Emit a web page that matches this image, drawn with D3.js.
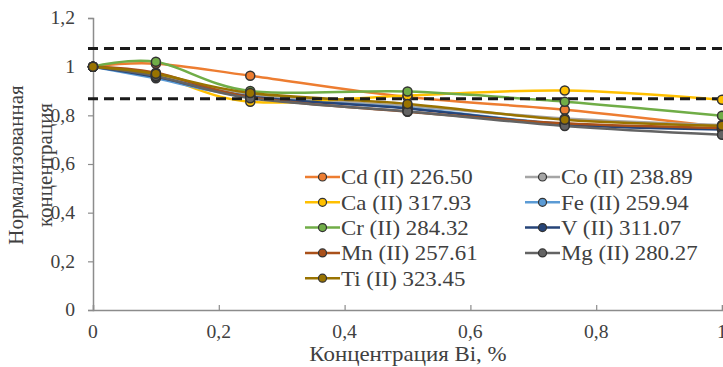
<!DOCTYPE html>
<html><head><meta charset="utf-8">
<script src="https://cdn.jsdelivr.net/npm/d3@7"></script>
<style>body{margin:0;background:#fff}svg{display:block}</style>
</head><body>
<svg id="c" width="723" height="367"></svg>
<script>
const xValues = [0, 0.1, 0.25, 0.5, 0.75, 1];
const seriesNames = ["Cd (II) 226.50","Co (II) 238.89","Ca (II) 317.93","Fe (II) 259.94","Cr (II) 284.32","V (II) 311.07","Mn (II) 257.61","Mg (II) 280.27","Ti (II) 323.45"];
const cd = [1, 1.012, 0.963, 0.875, 0.823, 0.752];
const co = [1, 0.965, 0.885, 0.838, 0.787, 0.76];
const ca = [1, 0.965, 0.856, 0.882, 0.902, 0.864];
const fe = [1, 0.952, 0.875, 0.83, 0.765, 0.745];
const cr = [1, 1.02, 0.9, 0.898, 0.856, 0.798];
const v  = [1, 0.958, 0.877, 0.828, 0.762, 0.742];
const mn = [1, 0.975, 0.875, 0.815, 0.767, 0.748];
const mg = [1, 0.962, 0.87, 0.816, 0.756, 0.72];
const ti = [1, 0.971, 0.892, 0.847, 0.782, 0.757];
const seriesValues = [cd, co, ca, fe, cr, v, mn, mg, ti];
const colors = ["#ED7D31","#A5A5A5","#FFC000","#5B9BD5","#70AD47","#264478","#A9501A","#636363","#997300"];
const yTicks = [0, 0.2, 0.4, 0.6, 0.8, 1, 1.2];
const yTickLabels = ["0","0,2","0,4","0,6","0,8","1","1,2"];
const xTicks = [0, 0.2, 0.4, 0.6, 0.8, 1];
const xTickLabels = ["0","0,2","0,4","0,6","0,8","1"];
const refLines = [1.075, 0.868];

const FONT = "Tinos";
const STRETCH = 1.09;
const stretch = sel => sel.each(function(){
  const w = this.getComputedTextLength();
  d3.select(this).attr("textLength", w*STRETCH).attr("lengthAdjust","spacingAndGlyphs");
});
const svg = d3.select("#c");
const x = d3.scaleLinear().domain([0,1]).range([93,722]);
const y = d3.scaleLinear().domain([0,1.2]).range([310,18]);

// axes
const yAxis = d3.axisLeft(y).tickValues(yTicks).tickSize(5).tickFormat((d,i)=>yTickLabels[i]);
const gy = svg.append("g").attr("transform","translate(93,0)").call(yAxis).attr("font-family",FONT);
gy.select(".domain").attr("stroke","#8c8c8c").attr("stroke-width",1.5);
gy.selectAll(".tick line").attr("stroke","#8c8c8c").attr("stroke-width",1.2);
gy.selectAll(".tick text").attr("x",-18).attr("font-size",18).attr("fill","#404040").attr("font-family",FONT).call(stretch);

const xAxis = d3.axisTop(x).tickValues(xTicks).tickSize(5).tickFormat("");
const gx = svg.append("g").attr("transform","translate(0,310)").call(xAxis);
gx.select(".domain").attr("stroke","#8c8c8c").attr("stroke-width",1.5);
gx.selectAll(".tick line").attr("stroke","#8c8c8c").attr("stroke-width",1.2);
svg.append("g").selectAll("text").data(xTicks).join("text")
  .attr("x",d=>x(d)).attr("y",338).attr("text-anchor","middle").attr("font-size",18)
  .attr("font-family",FONT).attr("fill","#404040")
  .text((d,i)=>xTickLabels[i]).call(stretch);

// series lines
const line = d3.line().x((d,i)=>x(xValues[i])).y(d=>y(d)).curve(d3.curveCardinal.tension(0));
seriesValues.forEach((s,k)=>{
  svg.append("path").attr("d",line(s)).attr("fill","none").attr("stroke",colors[k]).attr("stroke-width",2.5);
});

// reference dashed lines
svg.append("g").selectAll("line").data(refLines).join("line")
  .attr("x1",88).attr("x2",723).attr("y1",d=>y(d)).attr("y2",d=>y(d))
  .attr("stroke","#1a1a1a").attr("stroke-width",3).attr("stroke-dasharray","10,6");

// markers
seriesValues.forEach((s,k)=>{
  svg.append("g").selectAll("circle").data(s).join("circle")
    .attr("cx",(d,i)=>x(xValues[i])).attr("cy",d=>y(d)).attr("r",4.5)
    .attr("fill",colors[k]).attr("stroke","#333").attr("stroke-width",1.5);
});

// legend
const leg = svg.append("g");
seriesNames.forEach((name,k)=>{
  const col = k%2, row = Math.floor(k/2);
  const lx = col===0 ? 305 : 525, ly = 177 + row*25.3;
  leg.append("line").attr("x1",lx).attr("x2",lx+35).attr("y1",ly).attr("y2",ly).attr("stroke",colors[k]).attr("stroke-width",2.5);
  leg.append("circle").attr("cx",lx+17.5).attr("cy",ly).attr("r",4).attr("fill",colors[k]).attr("stroke","#333").attr("stroke-width",1.2);
  leg.append("text").attr("x",lx+36).attr("y",ly).attr("dy","0.35em").attr("font-size",21)
    .attr("font-family",FONT).attr("fill","#404040").text(name).call(stretch);
});

// axis titles
svg.append("text").attr("x",408).attr("y",361).attr("text-anchor","middle").attr("font-size",21)
  .attr("font-family",FONT).attr("fill","#404040").text("Концентрация Bi, %").call(stretch);
const yt = svg.append("text").attr("transform","translate(0,165) rotate(-90)").attr("text-anchor","middle")
  .attr("font-size",21).attr("font-family",FONT).attr("fill","#404040");
yt.append("tspan").attr("x",0).attr("y",23).text("Нормализованная");
yt.append("tspan").attr("x",0).attr("y",52).text("концентрация");
</script>
</body></html>
